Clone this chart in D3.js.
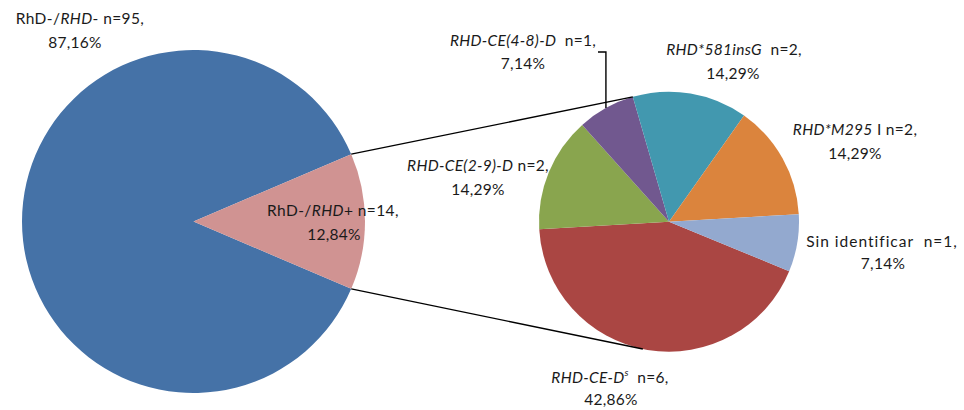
<!DOCTYPE html>
<html>
<head>
<meta charset="utf-8">
<script src="https://cdn.jsdelivr.net/npm/d3@7"></script>
<style>
  html, body { margin: 0; padding: 0; background: #fff; }
  svg text { font-family: Lato, "Open Sans", sans-serif; fill: #1a1a1a; white-space: pre; }
</style>
</head>
<body>
<svg id="chart" width="964" height="410"></svg>
<script>
// Main pie: RhD- donors split by RHD genotype
// Markup: [..] = italic, ^x = superscript character
const mainCategories = ["RhD-/[RHD]-", "RhD-/[RHD]+"];
const mainCounts = [95, 14];
const mainColors = ["#4572A7", "#D09392"];

// Secondary pie: breakdown of RhD-/RHD+ (clockwise)
const subCategories = ["[RHD-CE-D^s]", "[RHD-CE(2-9)-D]", "[RHD-CE(4-8)-D]", "[RHD*581insG]", "[RHD*M295] I", "Sin identificar"];
const subCounts = [6, 2, 1, 2, 2, 1];
const subColors = ["#AA4643", "#89A54E", "#71588F", "#4298AF", "#DB843D", "#93A9CF"];
// spacing between name and count
const subGaps = ["  ", " ", "  ", "  ", " ", "  "];

const svg = d3.select("#chart");
const deg = Math.PI / 180;
const FONT = 15.5;

const fmtPct = v => d3.format(".2f")(v).replace(".", ",") + "%";

// ---- geometry
const main = { cx: 193.5, cy: 221.5, r: 171.5 };
const sub = { cx: 669, cy: 221.7, r: 130 };

const mainTotal = d3.sum(mainCounts);
const splitHalf = 180 * mainCounts[1] / mainTotal; // half angle of the exploded slice (deg)

const mainPie = d3.pie().sort(null)
  .startAngle((90 + splitHalf) * deg)
  .endAngle((450 + splitHalf) * deg);
const mainArcs = mainPie(mainCounts);
const mainArc = d3.arc().innerRadius(0).outerRadius(main.r);

const subPie = d3.pie().sort(null)
  .startAngle(112.4 * deg)
  .endAngle(472.4 * deg);
const subArcs = subPie(subCounts);
const subArc = d3.arc().innerRadius(0).outerRadius(sub.r);

const gMain = svg.append("g").attr("transform", `translate(${main.cx},${main.cy})`);
gMain.selectAll("path").data(mainArcs).join("path")
  .attr("d", mainArc)
  .attr("fill", (d, i) => mainColors[i]);

const gSub = svg.append("g").attr("transform", `translate(${sub.cx},${sub.cy})`);
gSub.selectAll("path").data(subArcs).join("path")
  .attr("d", subArc)
  .attr("fill", (d, i) => subColors[i]);

// ---- connector lines between the pies
const polar = (c, r, a) => [c.cx + r * Math.sin(a), c.cy - r * Math.cos(a)];
const pink = mainArcs[1];
const upperFrom = polar(main, main.r, pink.startAngle);
const lowerFrom = polar(main, main.r, pink.endAngle);
const upperTo = polar(sub, sub.r, subArcs[3].startAngle);
const lowerTo = polar(sub, sub.r, 191.6 * deg);
svg.append("g").attr("stroke", "#000").attr("stroke-width", 1.4).attr("fill", "none")
  .selectAll("line").data([[upperFrom, upperTo], [lowerFrom, lowerTo]]).join("line")
  .attr("x1", d => d[0][0]).attr("y1", d => d[0][1])
  .attr("x2", d => d[1][0]).attr("y2", d => d[1][1]);

// ---- rich label text
function addRich(textSel, markup) {
  let italic = false;
  let buf = "";
  let pendingDy = 0;
  const flush = () => {
    if (buf) {
      const ts = textSel.append("tspan").attr("font-style", italic ? "italic" : "normal").text(buf);
      if (pendingDy) { ts.attr("dy", pendingDy); pendingDy = 0; }
    }
    buf = "";
  };
  for (let i = 0; i < markup.length; i++) {
    const ch = markup[i];
    if (ch === "[" || ch === "]") { flush(); italic = ch === "["; }
    else if (ch === "^") {
      flush();
      textSel.append("tspan").attr("font-style", italic ? "italic" : "normal")
        .attr("font-size", 10).attr("dy", -7).text(markup[++i]);
      pendingDy = 7;
    }
    else buf += ch;
  }
  flush();
  return pendingDy;
}

function drawLabel(p, name, count, pct, gap) {
  const t1 = svg.append("text").attr("x", p[0]).attr("y", p[1])
    .attr("text-anchor", "middle").attr("font-size", FONT)
    .attr("letter-spacing", p[4]);
  const dy = addRich(t1, name);
  const tail = t1.append("tspan").text(gap + "n=" + count + ",");
  if (dy) tail.attr("dy", dy);
  svg.append("text").attr("x", p[2]).attr("y", p[3])
    .attr("text-anchor", "middle").attr("font-size", FONT)
    .attr("letter-spacing", 0.3).text(pct);
}

// label layout: line 1 centre/baseline, line 2 centre/baseline, letter spacing
const mainLabelPos = [[80, 24, 75, 48, 0.4], [333, 216, 334, 240, 0.4]];
const subLabelPos = [
  [610, 383, 611, 405, 0.3],
  [478, 171, 478, 195, 0.3],
  [523, 46, 523, 69, 0.3],
  [734, 55, 733, 79, 0.3],
  [855, 135, 855, 159, 0.3],
  [882, 247, 883, 269, 1.0]
];

mainCategories.forEach((c, i) => {
  drawLabel(mainLabelPos[i], c, mainCounts[i], fmtPct(100 * mainCounts[i] / mainTotal), " ");
});
const subTotal = d3.sum(subCounts);
subCategories.forEach((c, i) => {
  drawLabel(subLabelPos[i], c, subCounts[i], fmtPct(100 * subCounts[i] / subTotal), subGaps[i]);
});

// leader line for the small purple slice label
const purple = subArcs[2];
const purpleMid = polar(sub, sub.r, (purple.startAngle + purple.endAngle) / 2);
svg.append("polyline")
  .attr("points", [[598, 52], [purpleMid[0], 52], purpleMid].map(p => p.join(",")).join(" "))
  .attr("fill", "none").attr("stroke", "#000").attr("stroke-width", 1.4);
</script>
</body>
</html>
